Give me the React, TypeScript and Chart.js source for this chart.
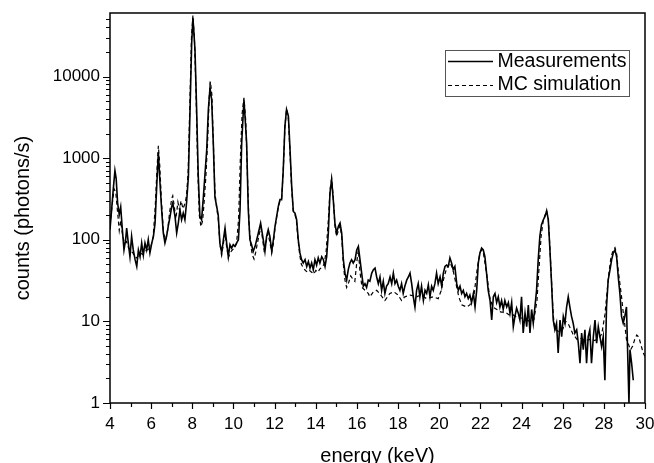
import { useEffect, useRef } from 'react';
import { Chart, registerables } from 'chart.js';

Chart.register(...registerables);

const FONT = '"Liberation Sans", Arial, Helvetica, sans-serif';

const X_TITLE = 'energy (keV)';
const Y_TITLE = 'counts (photons/s)';
const SERIES_NAMES = ['Measurements', 'MC simulation'];

const X_MIN = 4;
const X_MAX = 30;
const Y_MIN = 1;
const Y_MAX = 60000;
const xTickValues = [4, 6, 8, 10, 12, 14, 16, 18, 20, 22, 24, 26, 28, 30];
const yTickValues = [1, 10, 100, 1000, 10000];

const energyMeas = [
  4.00, 4.16, 4.24, 4.30, 4.37, 4.45, 4.52, 4.60, 4.68, 4.76, 4.81, 4.89, 4.97, 5.05, 5.13, 5.22, 5.30, 5.38, 5.46, 5.54,
  5.62, 5.70, 5.78, 5.86, 5.94, 6.03, 6.11, 6.19, 6.27, 6.35, 6.43, 6.51, 6.59, 6.67, 6.75, 6.83, 6.92, 7.00, 7.05, 7.16,
  7.24, 7.32, 7.40, 7.48, 7.56, 7.64, 7.72, 7.81, 7.89, 7.97, 8.03, 8.13, 8.21, 8.29, 8.37, 8.45, 8.54, 8.62, 8.70, 8.78,
  8.86, 8.94, 9.02, 9.10, 9.18, 9.26, 9.34, 9.43, 9.51, 9.59, 9.67, 9.75, 9.83, 9.91, 9.99, 10.07, 10.15, 10.24, 10.32, 10.40,
  10.51, 10.64, 10.72, 10.80, 10.88, 10.96, 11.05, 11.13, 11.21, 11.32, 11.45, 11.53, 11.61, 11.69, 11.77, 11.86, 11.94, 12.02, 12.10, 12.18,
  12.26, 12.34, 12.42, 12.50, 12.58, 12.67, 12.75, 12.83, 12.91, 12.99, 13.07, 13.15, 13.23, 13.31, 13.39, 13.48, 13.56, 13.64, 13.72, 13.80,
  13.88, 13.96, 14.04, 14.12, 14.20, 14.29, 14.37, 14.45, 14.53, 14.61, 14.69, 14.77, 14.85, 14.93, 15.01, 15.10, 15.18, 15.26, 15.34, 15.42,
  15.50, 15.58, 15.66, 15.74, 15.82, 15.91, 15.99, 16.07, 16.15, 16.23, 16.31, 16.39, 16.47, 16.55, 16.63, 16.72, 16.80, 16.88, 16.96, 17.04,
  17.12, 17.20, 17.28, 17.36, 17.44, 17.52, 17.61, 17.69, 17.77, 17.85, 17.93, 18.01, 18.09, 18.17, 18.25, 18.33, 18.42, 18.50, 18.58, 18.66,
  18.74, 18.82, 18.90, 18.98, 19.06, 19.14, 19.23, 19.31, 19.39, 19.47, 19.55, 19.63, 19.71, 19.79, 19.87, 19.95, 20.04, 20.12, 20.20, 20.28,
  20.36, 20.44, 20.52, 20.60, 20.68, 20.76, 20.85, 20.93, 21.01, 21.09, 21.17, 21.25, 21.33, 21.41, 21.49, 21.57, 21.66, 21.74, 21.82, 21.90,
  21.98, 22.06, 22.14, 22.22, 22.30, 22.38, 22.47, 22.55, 22.63, 22.71, 22.79, 22.87, 22.95, 23.03, 23.11, 23.19, 23.28, 23.36, 23.44, 23.52,
  23.60, 23.68, 23.76, 23.84, 23.92, 24.00, 24.08, 24.17, 24.25, 24.33, 24.41, 24.49, 24.57, 24.65, 24.73, 24.81, 24.89, 24.97, 25.06, 25.14,
  25.22, 25.30, 25.38, 25.46, 25.54, 25.62, 25.70, 25.78, 25.87, 25.95, 26.03, 26.11, 26.19, 26.27, 26.35, 26.43, 26.51, 26.59, 26.68, 26.76,
  26.84, 26.92, 27.00, 27.08, 27.16, 27.24, 27.32, 27.40, 27.49, 27.57, 27.65, 27.73, 27.81, 27.89, 27.97, 28.05, 28.13, 28.21, 28.30, 28.38,
  28.46, 28.54, 28.62, 28.70, 28.78, 28.86, 28.94, 29.02, 29.10, 29.15, 29.22, 29.27, 29.35, 29.43,
];

const countsMeas = [
  133, 420, 703, 560, 282, 203, 252, 133, 75, 100, 139, 91, 62, 110, 75, 57, 47, 75, 62, 91,
  65, 91, 75, 100, 69, 91, 110, 160, 451, 1159, 496, 233, 121, 91, 110, 146, 193, 256, 282, 193,
  121, 160, 233, 176, 212, 176, 282, 598, 3935, 25900, 52500, 21400, 3935, 598, 193, 176, 340, 658, 1253, 3935,
  7260, 5220, 1537, 330, 260, 200, 91, 69, 100, 139, 91, 62, 87, 79, 87, 83, 91, 100, 233, 1537,
  5220, 1537, 233, 100, 87, 72, 83, 100, 121, 160, 100, 72, 110, 133, 110, 72, 100, 146, 193, 256,
  310, 310, 722, 2455, 3935, 3260, 1253, 451, 222, 212, 176, 100, 69, 57, 52, 57, 47, 54, 45, 52,
  43, 57, 49, 60, 52, 62, 57, 47, 62, 121, 374, 545, 310, 160, 121, 146, 160, 121, 57, 39,
  32, 43, 52, 57, 52, 57, 75, 83, 57, 39, 27, 29, 26, 32, 31, 39, 43, 45, 35, 29,
  35, 24, 31, 22, 27, 29, 35, 29, 39, 29, 32, 27, 24, 29, 22, 27, 32, 35, 39, 29,
  20, 15, 24, 29, 20, 27, 18, 24, 22, 28, 20, 27, 24, 29, 39, 29, 35, 27, 39, 47,
  49, 47, 60, 52, 43, 47, 29, 24, 27, 22, 24, 20, 22, 19, 21, 17, 22, 15, 24, 52,
  69, 79, 75, 62, 39, 24, 18, 10.4, 20, 22, 17, 20, 15, 18, 14, 18, 15, 17, 12.6, 17,
  8.6, 11.5, 14.5, 12.6, 10.4, 20, 7.2, 12.6, 8.6, 15.9, 7.2, 14, 9.5, 15, 24, 57, 110, 153, 176, 193,
  227, 176, 75, 29, 10.4, 7.9, 9.5, 4.1, 10.4, 6.5, 11.5, 9.5, 15, 20, 15, 11.5, 9.5, 7.2, 7.9, 5.4,
  3.07, 7.2, 4.5, 7.9, 3.07, 6.5, 7.9, 3.07, 6.5, 10.4, 5.4, 8.6, 6.5, 4.9, 6.5, 1.9, 15, 32, 43, 57,
  69, 75, 62, 35, 22, 11.5, 9.5, 11.5, 15, 4.9, 1.0, 4.5, 3.07, 1.9,
];

const energySim = [
  4.00, 4.10, 4.20, 4.28, 4.36, 4.45, 4.52, 4.60, 4.70, 4.80, 4.90, 5.00, 5.10, 5.20, 5.30, 5.40, 5.50, 5.60, 5.70, 5.80,
  5.90, 6.00, 6.10, 6.20, 6.28, 6.35, 6.42, 6.50, 6.60, 6.70, 6.80, 6.90, 7.00, 7.05, 7.12, 7.20, 7.30, 7.38, 7.45, 7.55,
  7.65, 7.72, 7.80, 7.88, 7.96, 8.03, 8.10, 8.18, 8.26, 8.34, 8.42, 8.50, 8.58, 8.66, 8.74, 8.82, 8.88, 8.95, 9.02, 9.10,
  9.18, 9.26, 9.34, 9.42, 9.50, 9.58, 9.66, 9.75, 9.85, 9.95, 10.05, 10.15, 10.25, 10.33, 10.42, 10.51, 10.60, 10.68, 10.76, 10.84,
  10.92, 11.00, 11.08, 11.16, 11.26, 11.34, 11.42, 11.50, 11.58, 11.68, 11.78, 11.86, 11.94, 12.02, 12.10, 12.18, 12.26, 12.34, 12.42, 12.50,
  12.58, 12.66, 12.74, 12.82, 12.90, 12.98, 13.06, 13.14, 13.22, 13.30, 13.40, 13.50, 13.60, 13.70, 13.80, 13.90, 14.00, 14.10, 14.20, 14.30,
  14.40, 14.50, 14.60, 14.70, 14.77, 14.85, 14.93, 15.01, 15.10, 15.18, 15.26, 15.34, 15.42, 15.50, 15.60, 15.70, 15.80, 15.90, 16.00, 16.07,
  16.15, 16.25, 16.40, 16.55, 16.63, 16.80, 16.96, 17.10, 17.36, 17.60, 17.80, 18.00, 18.17, 18.33, 18.60, 18.90, 19.10, 19.39, 19.70, 19.95,
  20.10, 20.20, 20.35, 20.52, 20.65, 20.80, 20.95, 21.09, 21.33, 21.50, 21.70, 21.85, 21.98, 22.06, 22.14, 22.30, 22.45, 22.60, 22.80, 23.00,
  23.20, 23.40, 23.60, 23.80, 24.00, 24.20, 24.40, 24.60, 24.75, 24.85, 24.95, 25.06, 25.14, 25.22, 25.30, 25.38, 25.46, 25.54, 25.62, 25.80,
  26.00, 26.15, 26.30, 26.50, 26.70, 26.90, 27.10, 27.30, 27.50, 27.70, 27.90, 28.05, 28.15, 28.25, 28.35, 28.46, 28.54, 28.62, 28.70, 28.78,
  28.86, 28.94, 29.02, 29.10, 29.20, 29.30, 29.40, 29.50, 29.60, 29.70, 29.80, 29.90, 30.00,
];

const countsSim = [
  150, 260, 420, 380, 230, 130, 170, 120, 90, 95, 80, 72, 70, 62, 60, 65, 68, 66, 72, 75,
  78, 85, 110, 260, 700, 1420, 800, 300, 120, 100, 130, 220, 320, 345, 260, 180, 290, 230, 300, 240,
  280, 350, 700, 4500, 30000, 56000, 30000, 6500, 800, 200, 145, 170, 300, 600, 1500, 5500, 8700, 6000, 1600, 380,
  250, 180, 90, 65, 85, 120, 85, 60, 70, 75, 80, 90, 180, 900, 3500, 5500, 2800, 600, 150, 85,
  65, 58, 70, 90, 120, 140, 100, 70, 95, 120, 90, 70, 90, 140, 190, 250, 300, 320, 700, 2400,
  4000, 3300, 1300, 450, 230, 210, 170, 100, 65, 50, 45, 42, 40, 42, 40, 38, 42, 40, 44, 46,
  50, 70, 160, 420, 560, 330, 150, 110, 130, 150, 110, 50, 32, 26, 30, 36, 33, 31, 55, 75,
  40, 26, 24, 22, 20, 23, 24, 22, 18, 22, 23, 21, 18, 20, 21, 20, 21, 19, 20, 19,
  24, 32, 44, 52, 45, 30, 20, 16, 15, 16, 22, 45, 70, 75, 70, 39, 20, 15, 14, 13,
  13, 12, 12, 11, 11, 10.5, 10, 10.5, 18, 45, 110, 175, 200, 225, 180, 80, 30, 12, 8, 7.5,
  8, 10, 9, 7, 6, 6.2, 5.8, 6, 5.8, 6, 7, 12, 22, 40, 62, 75, 80, 68, 42, 29,
  20, 13, 9, 6, 5.2, 4.5, 5, 6, 6.8, 6.4, 5.2, 4.2, 3.7,
];

const decorPlugin = {
  id: 'decor',
  afterDraw(chart: any) {
    const { ctx, chartArea: a, scales } = chart;
    const xs = scales.x;
    const ys = scales.y;
    ctx.save();
    ctx.strokeStyle = '#000';
    ctx.fillStyle = '#000';
    ctx.lineWidth = 1.5;
    ctx.strokeRect(a.left, a.top, a.right - a.left, a.bottom - a.top);

    // axis tick marks (major + minor)
    ctx.lineWidth = 1.2;
    ctx.beginPath();
    for (let v = X_MIN; v <= X_MAX; v += 1) {
      const px = Math.round(xs.getPixelForValue(v)) + 0.5;
      const len = v % 2 === 0 ? 6 : 4;
      ctx.moveTo(px, a.bottom);
      ctx.lineTo(px, a.bottom + len);
    }
    for (let d = 1; d <= Y_MAX; d *= 10) {
      for (let m = 1; m <= 9; m++) {
        const v = m * d;
        if (v > Y_MAX * 0.999) continue;
        const py = Math.round(ys.getPixelForValue(v)) + 0.5;
        const len = m === 1 ? 7 : 4;
        ctx.moveTo(a.left, py);
        ctx.lineTo(a.left - len, py);
      }
    }
    ctx.stroke();

    // axis titles
    ctx.font = `20px ${FONT}`;
    ctx.textAlign = 'center';
    ctx.textBaseline = 'alphabetic';
    ctx.fillText(X_TITLE, (a.left + a.right) / 2, 461.5);
    ctx.save();
    ctx.translate(29, 218);
    ctx.rotate(-Math.PI / 2);
    ctx.fillText(Y_TITLE, 0, 0);
    ctx.restore();

    // legend
    ctx.lineWidth = 1;
    ctx.strokeStyle = '#555';
    ctx.strokeRect(445.5, 50.5, 184, 46);
    ctx.strokeStyle = '#000';
    ctx.lineWidth = 1.3;
    ctx.beginPath();
    ctx.moveTo(448, 61.5);
    ctx.lineTo(493, 61.5);
    ctx.stroke();
    ctx.setLineDash([4, 3]);
    ctx.lineWidth = 1.2;
    ctx.beginPath();
    ctx.moveTo(448, 85.5);
    ctx.lineTo(493, 85.5);
    ctx.stroke();
    ctx.setLineDash([]);
    ctx.font = `19.5px ${FONT}`;
    ctx.textAlign = 'left';
    ctx.textBaseline = 'middle';
    ctx.fillText(SERIES_NAMES[0], 497.5, 62);
    ctx.fillText(SERIES_NAMES[1], 497.5, 85);
    ctx.restore();
  },
};

export default function App() {
  const ref = useRef<HTMLCanvasElement | null>(null);
  useEffect(() => {
    if (!ref.current) return;
    const chart = new Chart(ref.current, {
      type: 'line',
      data: {
        datasets: [
          {
            label: SERIES_NAMES[0],
            data: energyMeas.map((x, i) => ({ x, y: countsMeas[i] })),
            borderColor: '#000',
            borderWidth: 1.6,
            pointRadius: 0,
            tension: 0,
            fill: false,
          },
          {
            label: SERIES_NAMES[1],
            data: energySim.map((x, i) => ({ x, y: countsSim[i] })),
            borderColor: '#000',
            borderWidth: 1.2,
            borderDash: [4, 3],
            pointRadius: 0,
            tension: 0,
            fill: false,
          },
        ],
      },
      options: {
        responsive: false,
        animation: false,
        events: [],
        layout: { padding: 0 },
        plugins: {
          legend: { display: false },
          tooltip: { enabled: false },
        },
        scales: {
          x: {
            type: 'linear',
            min: X_MIN,
            max: X_MAX,
            afterBuildTicks: (s: any) => {
              s.ticks = xTickValues.map((v) => ({ value: v }));
            },
            afterFit: (s: any) => {
              s.height = 60;
              s.paddingLeft = 0;
              s.paddingRight = 9;
              s.paddingTop = 0;
              s.paddingBottom = 0;
            },
            grid: { display: true, drawOnChartArea: false, drawTicks: false },
            border: { display: false },
            ticks: {
              color: '#000',
              font: { family: FONT, size: 17 },
              padding: 11,
              maxRotation: 0,
              autoSkip: false,
              callback: (v: any) => String(v),
            },
          },
          y: {
            type: 'logarithmic',
            min: Y_MIN,
            max: Y_MAX,
            afterBuildTicks: (s: any) => {
              s.ticks = yTickValues.map((v) => ({ value: v }));
            },
            afterFit: (s: any) => {
              s.width = 110;
              s.paddingTop = 13;
              s.paddingBottom = 0;
              s.paddingLeft = 0;
              s.paddingRight = 0;
            },
            grid: { display: true, drawOnChartArea: false, drawTicks: false },
            border: { display: false },
            ticks: {
              color: '#000',
              font: { family: FONT, size: 17 },
              padding: 10,
              autoSkip: false,
              callback: (v: any) => String(v),
            },
          },
        },
      },
      plugins: [decorPlugin],
    } as any);
    return () => chart.destroy();
  }, []);
  return (
    <div style={{ position: 'fixed', left: 0, top: 0, width: 654, height: 463, background: '#fff' }}>
      <canvas ref={ref} width={654} height={463} style={{ display: 'block' }} />
    </div>
  );
}
